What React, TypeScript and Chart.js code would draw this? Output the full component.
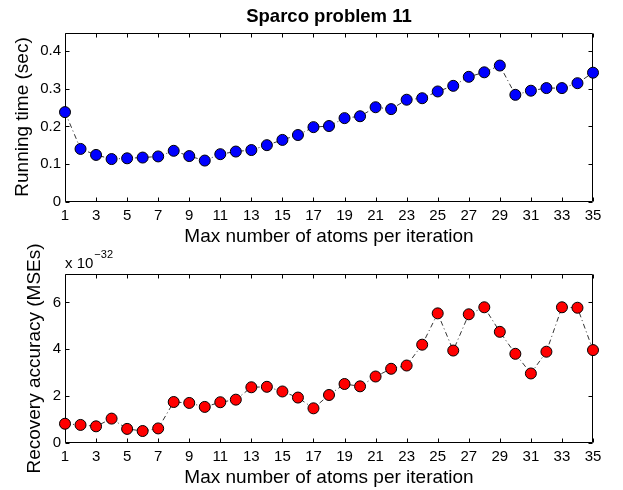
import React, { useEffect, useRef } from 'react';
import { Chart, registerables } from 'chart.js';

Chart.register(...registerables);

// ---- data ----
const atoms = [1, 2, 3, 4, 5, 6, 7, 8, 9, 10, 11, 12, 13, 14, 15, 16, 17, 18, 19, 20, 21, 22, 23, 24, 25, 26, 27, 28, 29, 30, 31, 32, 33, 34, 35];
const runningTime = [0.238, 0.140, 0.124, 0.113, 0.115, 0.117, 0.120, 0.135, 0.121, 0.109, 0.126, 0.133, 0.137, 0.150, 0.164, 0.177, 0.198, 0.201, 0.222, 0.227, 0.251, 0.246, 0.271, 0.275, 0.293, 0.308, 0.332, 0.344, 0.362, 0.284, 0.295, 0.302, 0.302, 0.315, 0.343];
const recoveryMSE = [0.81, 0.76, 0.70, 1.03, 0.59, 0.50, 0.61, 1.74, 1.70, 1.53, 1.73, 1.84, 2.37, 2.39, 2.19, 1.93, 1.47, 2.04, 2.51, 2.41, 2.83, 3.16, 3.30, 4.19, 5.53, 3.94, 5.49, 5.79, 4.74, 3.80, 2.96, 3.89, 5.79, 5.77, 3.96];
const xTicks = [1, 3, 5, 7, 9, 11, 13, 15, 17, 19, 21, 23, 25, 27, 29, 31, 33, 35];
const yTicksTime = [0, 0.1, 0.2, 0.3, 0.4];
const yTicksMSE = [0, 2, 4, 6];

const chartTitle = 'Sparco problem 11';
const xTitle = 'Max number of atoms per iteration';
const yTitleTime = 'Running time (sec)';
const yTitleMSE = 'Recovery accuracy (MSEs)';
const exponentText = '\u221232';

const FAMILY = '"Liberation Sans", Arial, Helvetica, sans-serif';
const W = 623;
const H_TOP = 250;
const BOT_TOP = 230;
const H_BOT = 260;

const framePlugin = {
  id: 'frame',
  beforeDatasetsDraw(chart: any) {
    const { ctx, chartArea: a, scales } = chart;
    const L = Math.round(a.left) + 0.5;
    const R = Math.round(a.right) - 0.5;
    const T = Math.round(a.top) + 0.5;
    const B = Math.round(a.bottom) - 0.5;
    const tl = 4;
    ctx.save();
    ctx.strokeStyle = '#000';
    ctx.lineWidth = 1;
    ctx.beginPath();
    ctx.rect(L, T, R - L, B - T);
    scales.x.ticks.forEach((t: any) => {
      const px = Math.round(scales.x.getPixelForValue(t.value)) + 0.5;
      ctx.moveTo(px, B);
      ctx.lineTo(px, B - tl);
      ctx.moveTo(px, T);
      ctx.lineTo(px, T + tl);
    });
    scales.y.ticks.forEach((t: any) => {
      const py = Math.round(scales.y.getPixelForValue(t.value)) + 0.5;
      ctx.moveTo(L, py);
      ctx.lineTo(L + tl, py);
      ctx.moveTo(R, py);
      ctx.lineTo(R - tl, py);
    });
    ctx.stroke();
    ctx.restore();
  },
  afterDraw(chart: any, _args: any, opts: any) {
    if (!opts || !opts.exponent) return;
    const { ctx, chartArea: a } = chart;
    ctx.save();
    ctx.fillStyle = '#000';
    ctx.textBaseline = 'alphabetic';
    ctx.textAlign = 'left';
    ctx.font = `15px ${FAMILY}`;
    const base = 'x 10';
    const x0 = a.left;
    const y0 = a.top - 6.5;
    ctx.fillText(base, x0, y0);
    const w = ctx.measureText(base).width;
    ctx.font = `11px ${FAMILY}`;
    ctx.fillText(opts.exponent, x0 + w + 1, y0 - 10);
    ctx.restore();
  },
};

function makeConfig(opts: {
  data: number[];
  color: string;
  yMax: number;
  yTicks: number[];
  yTitle: string;
  yTitlePad: number;
  title?: string;
  topPad: number;
  xAxisH: number;
  xTitlePadBottom: number;
  fmt: (v: number) => string;
  exponent?: string;
}) {
  return {
    type: 'line',
    data: {
      labels: atoms,
      datasets: [
        {
          data: atoms.map((a, i) => ({ x: a, y: opts.data[i] })),
          borderColor: '#000',
          borderWidth: 0.8,
          borderDash: [5, 3, 1, 3],
          pointRadius: 5.5,
          pointBorderWidth: 1,
          pointBorderColor: '#000',
          pointBackgroundColor: opts.color,
          tension: 0,
          clip: false,
          fill: false,
        },
      ],
    },
    options: {
      animation: false,
      responsive: false,
      devicePixelRatio: 1,
      events: [],
      layout: { padding: { left: 0, right: 30, top: opts.topPad, bottom: 0 } },
      plugins: {
        legend: { display: false },
        tooltip: { enabled: false },
        title: opts.title
          ? {
              display: true,
              fullSize: false,
              text: opts.title,
              color: '#000',
              font: { family: FAMILY, size: 18.5, weight: 'bold' },
              padding: { top: 6, bottom: 4.3 },
            }
          : { display: false },
        frame: { exponent: opts.exponent || '' },
      },
      scales: {
        x: {
          type: 'linear',
          min: 1,
          max: 35,
          afterBuildTicks: (s: any) => {
            s.ticks = xTicks.map((v) => ({ value: v }));
          },
          afterFit: (s: any) => {
            s.height = opts.xAxisH;
          },
          grid: { display: false, drawTicks: false },
          border: { display: false },
          ticks: {
            color: '#000',
            font: { family: FAMILY, size: 15 },
            padding: 5.5,
            maxRotation: 0,
            autoSkip: false,
            callback: (v: any) => String(v),
          },
          title: {
            display: true,
            text: xTitle,
            color: '#000',
            font: { family: FAMILY, size: 19 },
            padding: { top: 0, bottom: opts.xTitlePadBottom },
          },
        },
        y: {
          type: 'linear',
          min: 0,
          max: opts.yMax,
          afterBuildTicks: (s: any) => {
            s.ticks = opts.yTicks.map((v) => ({ value: v }));
          },
          afterFit: (s: any) => {
            s.width = 65;
          },
          grid: { display: false, drawTicks: false },
          border: { display: false },
          ticks: {
            color: '#000',
            font: { family: FAMILY, size: 15 },
            padding: 4,
            callback: (v: any) => opts.fmt(Number(v)),
          },
          title: {
            display: true,
            text: opts.yTitle,
            color: '#000',
            font: { family: FAMILY, size: 19 },
            padding: { top: opts.yTitlePad, bottom: 0 },
          },
        },
      },
    },
    plugins: [framePlugin],
  } as any;
}

export default function App() {
  const topRef = useRef<HTMLCanvasElement | null>(null);
  const botRef = useRef<HTMLCanvasElement | null>(null);

  useEffect(() => {
    if (!topRef.current || !botRef.current) return;
    const top = new Chart(
      topRef.current,
      makeConfig({
        data: runningTime,
        color: '#0000ff',
        yMax: 0.45,
        yTicks: yTicksTime,
        yTitle: yTitleTime,
        yTitlePad: 11.4,
        title: chartTitle,
        topPad: 0,
        xAxisH: H_TOP - 201.5,
        xTitlePadBottom: 2,
        fmt: (v) => (v === 0 ? '0' : v.toFixed(1)),
      })
    );
    const bot = new Chart(
      botRef.current,
      makeConfig({
        data: recoveryMSE,
        color: '#ff0000',
        yMax: 7.2,
        yTicks: yTicksMSE,
        yTitle: yTitleMSE,
        yTitlePad: 23,
        topPad: 274.3 - BOT_TOP,
        xAxisH: H_BOT - (442.7 - BOT_TOP),
        xTitlePadBottom: 1,
        fmt: (v) => String(v),
        exponent: exponentText,
      })
    );
    return () => {
      top.destroy();
      bot.destroy();
    };
  }, []);

  return (
    <div style={{ position: 'absolute', left: 0, top: 0, width: W, height: 490, background: '#fff' }}>
      <canvas
        ref={topRef}
        width={W}
        height={H_TOP}
        style={{ position: 'absolute', left: 0, top: 0, display: 'block', width: W, height: H_TOP }}
      />
      <canvas
        ref={botRef}
        width={W}
        height={H_BOT}
        style={{ position: 'absolute', left: 0, top: BOT_TOP, display: 'block', width: W, height: H_BOT }}
      />
    </div>
  );
}
